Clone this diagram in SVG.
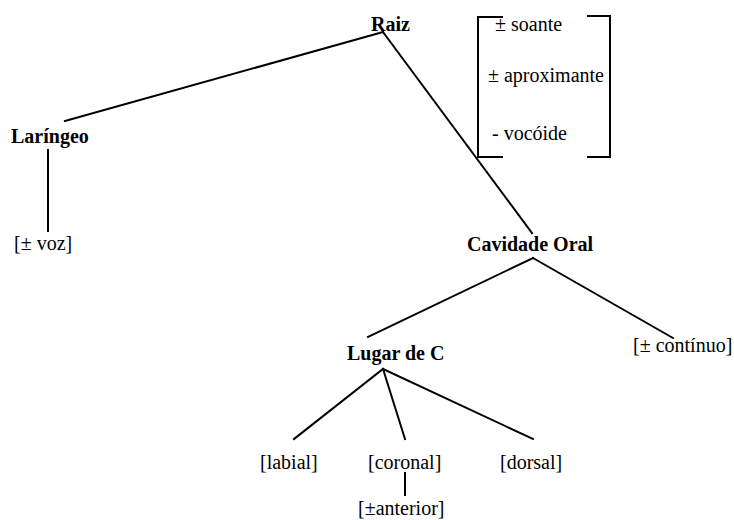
<svg xmlns="http://www.w3.org/2000/svg" width="734" height="520" viewBox="0 0 734 520">
<style>
  .t { font-family: "Liberation Serif", "Times New Roman", serif; font-size: 20px; fill: #000; }
  .b { font-weight: bold; }
  .ln { stroke: #000; stroke-width: 2; fill: none; stroke-linecap: square; }
</style>
<rect width="734" height="520" fill="#fff"/>
<g id="connectors">
  <line class="ln" x1="383" y1="32" x2="65" y2="121"/>
  <line class="ln" x1="383" y1="32" x2="532" y2="233"/>
  <line class="ln" x1="48" y1="150" x2="48" y2="231"/>
  <line class="ln" x1="533" y1="258" x2="368" y2="337"/>
  <line class="ln" x1="533" y1="258" x2="673" y2="338"/>
  <line class="ln" x1="383" y1="369" x2="294" y2="439"/>
  <line class="ln" x1="383" y1="369" x2="405" y2="439"/>
  <line class="ln" x1="383" y1="369" x2="533" y2="439"/>
  <line class="ln" x1="405" y1="473" x2="405" y2="495"/>
</g>
<g id="bracket">
  <polyline class="ln" points="502,17 478,17 478,157 502,157" stroke-linecap="butt"/>
  <polyline class="ln" points="588,16 610,16 610,157 588,157" stroke-linecap="butt"/>
  <text class="t" x="495" y="31">± soante</text>
  <text class="t" x="488" y="82">± aproximante</text>
  <text class="t" x="492" y="140">- vocóide</text>
</g>
<g id="raiz"><text class="t b" x="371" y="31">Raiz</text></g>
<g id="laringeo"><text class="t b" x="11" y="143">Laríngeo</text></g>
<g id="voz"><text class="t" x="14" y="250">[± voz]</text></g>
<g id="cavidade"><text class="t b" x="467" y="251">Cavidade Oral</text></g>
<g id="continuo"><text class="t" x="633" y="352">[± contínuo]</text></g>
<g id="lugar"><text class="t b" x="347" y="360">Lugar de C</text></g>
<g id="labial"><text class="t" x="260" y="469">[labial]</text></g>
<g id="coronal"><text class="t" x="368" y="469">[coronal]</text></g>
<g id="dorsal"><text class="t" x="500" y="469">[dorsal]</text></g>
<g id="anterior"><text class="t" x="358" y="515">[±anterior]</text></g>
</svg>
